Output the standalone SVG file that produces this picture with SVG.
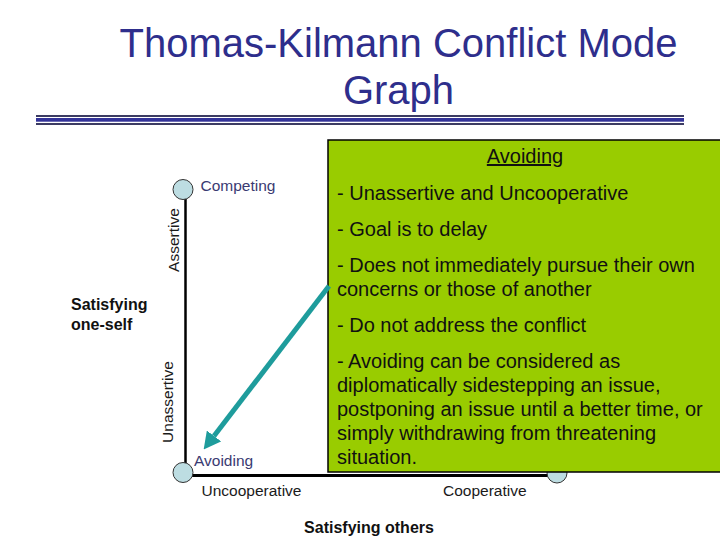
<svg xmlns="http://www.w3.org/2000/svg" width="720" height="540" viewBox="0 0 720 540">
<style>
text { font-family: "Liberation Sans", Arial, sans-serif; }
.title { font-size: 40px; fill: #2E2E8C; text-anchor: middle; }
.lbl { font-size: 15.5px; fill: #3A3A72; }
.axl { font-size: 15.5px; fill: #1a1a1a; }
.bold { font-size: 16px; font-weight: bold; fill: #111; }
.box { font-size: 20px; fill: #111; }
.node { fill: #BDDDE2; stroke: #333; stroke-width: 1; }
.axis { stroke: #000; fill: none; }
</style>
<defs>
<marker id="ah" markerUnits="userSpaceOnUse" markerWidth="17" markerHeight="18" refX="0" refY="9" orient="auto" viewBox="0 0 17 18">
<path d="M0,0 L17,9 L0,18 z" fill="#1E9C9C"/>
</marker>
</defs>
<rect width="720" height="540" fill="#fff"/>
<g id="title">
<text class="title" x="398.5" y="57">Thomas-Kilmann Conflict Mode</text>
<text class="title" x="398.5" y="104">Graph</text>
<rect x="36" y="115" width="648" height="2" fill="#3B3B63"/>
<rect x="36" y="118" width="648" height="3.7" fill="#333399"/>
<rect x="36" y="123" width="648" height="2" fill="#3B3B63"/>
</g>
<g id="axes">
<line class="axis" x1="185.5" y1="199" x2="185.5" y2="477" stroke-width="2.5"/>
<line class="axis" x1="184" y1="475.5" x2="548" y2="475.5" stroke-width="3"/>
<text class="axl" transform="translate(179,240) rotate(-90)" text-anchor="middle" font-size="16">Assertive</text>
<text class="axl" transform="translate(173,402) rotate(-90)" text-anchor="middle" font-size="16">Unassertive</text>
<text class="axl" x="201.5" y="496">Uncooperative</text>
<text class="axl" x="443" y="496">Cooperative</text>
<text class="bold" x="369" y="533" text-anchor="middle">Satisfying others</text>
<text class="bold" x="71" y="310">Satisfying</text>
<text class="bold" x="71" y="330">one-self</text>
</g>
<g id="competing">
<circle class="node" cx="183" cy="189.5" r="10"/>
<text class="lbl" x="200.5" y="191">Competing</text>
</g>
<g id="avoiding-node">
<circle class="node" cx="183" cy="472.5" r="10"/>
<text class="lbl" x="194" y="465.5">Avoiding</text>
</g>
<g id="collaborating">
<circle class="node" cx="557" cy="473" r="10"/>
</g>
<g id="avoiding-box">
<rect x="328" y="140" width="400" height="332" fill="#99CC00" stroke="#000" stroke-width="1.5"/>
<text class="box" x="525" y="163" text-anchor="middle" font-size="19.5" text-decoration="underline">Avoiding</text>
<text class="box" x="337" y="200">- Unassertive and Uncooperative</text>
<text class="box" x="337" y="235.5">- Goal is to delay</text>
<text class="box" x="337" y="271.5">- Does not immediately pursue their own</text>
<text class="box" x="337" y="295.5">concerns or those of another</text>
<text class="box" x="337" y="331.5">- Do not address the conflict</text>
<text class="box" x="337" y="367.5">- Avoiding can be considered as</text>
<text class="box" x="337" y="391.5">diplomatically sidestepping an issue,</text>
<text class="box" x="337" y="415.5">postponing an issue until a better time, or</text>
<text class="box" x="337" y="439.5">simply withdrawing from threatening</text>
<text class="box" x="337" y="463.5">situation.</text>
</g>
<g id="connectors">
<line x1="329" y1="286" x2="214" y2="436" stroke="#1E9C9C" stroke-width="5" marker-end="url(#ah)"/>
</g>
</svg>
